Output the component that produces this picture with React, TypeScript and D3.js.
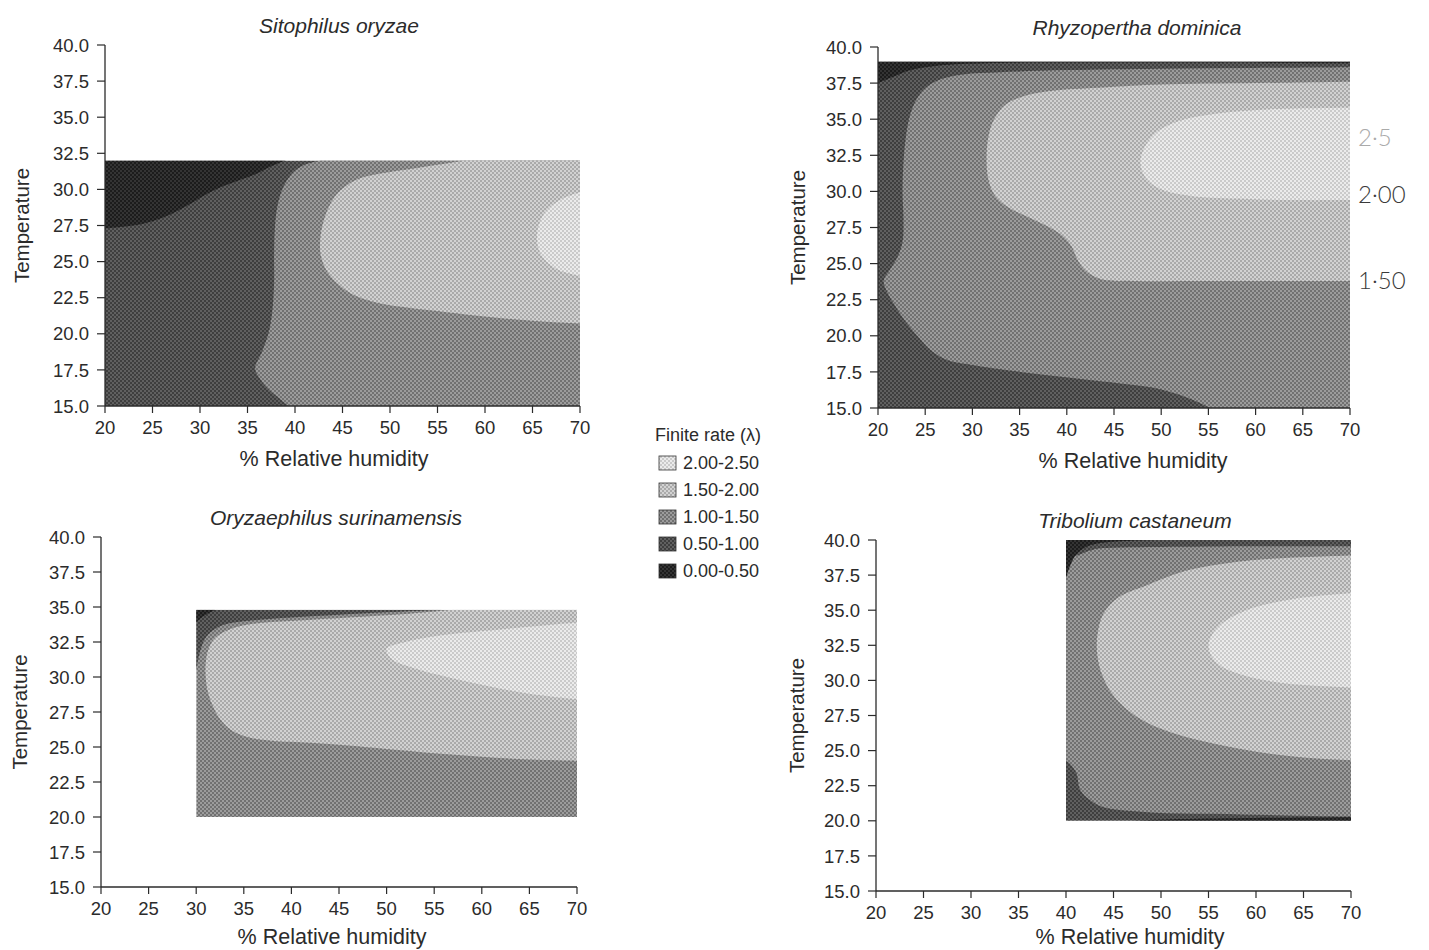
import React from 'react';
import * as d3 from 'd3';

// ---------- axis ticks & labels ----------
const rhTicks = [20, 25, 30, 35, 40, 45, 50, 55, 60, 65, 70];
const tempTicks = [15, 17.5, 20, 22.5, 25, 27.5, 30, 32.5, 35, 37.5, 40];
const levelLabels = ['0.00-0.50', '0.50-1.00', '1.00-1.50', '1.50-2.00', '2.00-2.50'];
const legendOrder = [4, 3, 2, 1, 0];
const speciesNames = ['Sitophilus oryzae', 'Rhyzopertha dominica', 'Oryzaephilus surinamensis', 'Tribolium castaneum'];
const handNotes = ['2·5', '2·00', '1·50'];
const handNoteTemps = [33.7, 29.8, 23.8];

// ---------- data extents [rhMin, rhMax, tMin, tMax] ----------
const sitoExtent = [20, 70, 15, 32];
const rhyzExtent = [20, 70, 15, 39];
const oryzExtent = [30, 70, 20, 34.8];
const tribExtent = [40, 70, 20, 40];

// ---------- contour boundaries [RH, Temp] ----------
// Sitophilus oryzae (base level 0.50-1.00)
const sitoEdge0 = [[20, 27.3], [23, 27.5], [25, 27.8], [27, 28.3], [29, 29.0], [30.5, 29.6], [32, 30.1], [34, 30.6], [36, 31.1], [37.5, 31.6], [39, 32]];
const sitoEdge2 = [[42.8, 32], [41, 31.7], [39.7, 31.1], [38.8, 30.2], [38.2, 29], [37.9, 27.5], [37.8, 25.5], [37.8, 23.5], [37.6, 21.5], [37.2, 20], [36.5, 18.7], [35.8, 17.6], [36.3, 16.9], [37.3, 16.1], [38.4, 15.5], [39.3, 15]];
const sitoEdge3 = [[58, 32], [55, 31.7], [52, 31.4], [49, 31.1], [47, 30.8], [45.5, 30.3], [44.2, 29.5], [43.2, 28.2], [42.7, 26.8], [42.7, 25.5], [43.4, 24.3], [44.8, 23.3], [46.5, 22.6], [49, 22.1], [52, 21.8], [56, 21.5], [60, 21.2], [65, 20.9], [70, 20.7]];
const sitoEdge4 = [[70, 29.8], [68, 29.3], [66.3, 28.4], [65.5, 27], [65.8, 25.6], [67.5, 24.5], [70, 24]];

// Rhyzopertha dominica (base level 0.50-1.00)
const rhyzEdge2 = [[70, 38.6], [60, 38.55], [50, 38.5], [40, 38.4], [33, 38.25], [29, 38.1], [26.8, 37.8], [25.3, 37.3], [24.3, 36.6], [23.5, 35.5], [23.0, 34], [22.7, 32], [22.6, 30], [22.7, 28], [22.6, 26.5], [22.1, 25.5], [21.2, 24.5], [20.6, 23.8], [21.0, 23], [21.8, 22.1], [22.8, 21.1], [24.3, 19.9], [25.6, 19.0], [27.4, 18.3], [29.8, 18.0], [35.1, 17.5], [40.4, 17.1], [45.7, 16.7], [49.2, 16.4], [51.5, 16.0], [53.2, 15.6], [55.2, 15]];
const rhyzEdge3 = [[70, 37.6], [60, 37.5], [50, 37.4], [44, 37.2], [39, 37.0], [35.5, 36.6], [33.5, 36], [32.3, 35], [31.7, 33.8], [31.5, 32.3], [31.7, 30.8], [32.4, 29.7], [33.8, 28.9], [36, 28.2], [38.2, 27.5], [39.6, 26.9], [40.5, 26.2], [41.2, 25.2], [42.2, 24.4], [43.8, 23.9], [47, 23.8], [55, 23.8], [70, 23.8]];
const rhyzEdge4 = [[70, 35.8], [62, 35.7], [56, 35.4], [52, 34.9], [49.5, 34.1], [48.2, 33], [47.8, 32], [48.3, 31], [49.8, 30.2], [53, 29.7], [58, 29.5], [64, 29.4], [70, 29.4]];
const rhyzEdge0 = [[20, 37.5], [21.5, 37.9], [23.5, 38.4], [26.5, 38.72], [31.5, 38.88], [45, 38.92], [70, 38.88]];

// Oryzaephilus surinamensis (base level 1.00-1.50)
const oryzEdge3 = [[57, 34.8], [52, 34.5], [46, 34.25], [40, 34.0], [36, 33.8], [33.5, 33.4], [32, 32.8], [31.3, 32], [31, 31], [31, 30], [31.2, 29], [31.7, 28], [32.5, 27], [33.7, 26.2], [35.5, 25.7], [38, 25.45], [42, 25.3], [46, 25.1], [50, 24.85], [55, 24.55], [60, 24.3], [65, 24.1], [70, 24.0]];
const oryzEdge4 = [[70, 33.9], [62, 33.4], [56, 33], [52, 32.5], [50, 32], [50.5, 31.3], [53, 30.6], [57, 29.9], [61, 29.3], [65, 28.8], [70, 28.4]];
const oryzEdge1 = [[30, 30.5], [30.4, 31.8], [30.9, 32.7], [31.7, 33.3], [33, 33.75], [36, 34.05], [40, 34.25], [45, 34.45], [50, 34.62], [56, 34.8]];
const oryzEdge0 = [[30, 33.9], [30.8, 34.35], [32, 34.8]];

// Tribolium castaneum (base level 1.00-1.50)
const tribEdge3 = [[70, 38.9], [60.2, 38.6], [55.5, 38.2], [52.1, 37.7], [48.6, 36.8], [45.5, 35.9], [43.9, 34.7], [43.3, 33.2], [43.3, 31.8], [43.8, 30.4], [44.8, 29.1], [46.3, 28], [48.5, 27], [51.5, 26.2], [55.5, 25.5], [60.2, 24.9], [65, 24.5], [70, 24.3]];
const tribEdge4 = [[70, 36.2], [64, 35.8], [59, 35], [56, 33.8], [55, 32.5], [55.8, 31.3], [58.5, 30.4], [63, 29.8], [70, 29.5]];
const tribEdge1Top = [[41.2, 38.9], [43, 39.35], [45, 39.45], [50, 39.5], [60, 39.55], [70, 39.55]];
const tribEdge1Bottom = [[40, 24.3], [40.5, 24.0], [41.1, 23.4], [41.5, 22.2], [42.5, 21.5], [43.8, 21.0], [49, 20.6], [55.5, 20.5], [62, 20.4], [70, 20.3]];
const tribEdge0Top = [[40, 37.3], [40.4, 38.1], [41, 38.9], [42.1, 39.5], [43.8, 39.8], [47, 39.95], [50, 40]];
const tribEdge0Bottom = [[47, 20], [52, 20.12], [60, 20.2], [70, 20.25]];

// ---------- styles ----------
const levelColors = [
  ['#1c1c1c', '#343434'],
  ['#3e3e3e', '#606060'],
  ['#717171', '#9c9c9c'],
  ['#aaaaaa', '#d2d2d2'],
  ['#cacaca', '#ebebeb'],
];
const FONT = '"Liberation Sans", Arial, Helvetica, sans-serif';
const INK = '#2b2b2b';

type Region = { level: number; edge: number[][]; close: number[][] };
type Panel = {
  name: string;
  extent: number[];
  base: number;
  regions: Region[];
  box: { x0: number; x1: number; yTop: number; yBot: number };
  titleX: number;
  xLabelX: number;
  xLabelY: number;
  yLabelX: number;
  notes?: boolean;
};

const panels: Panel[] = [
  {
    name: speciesNames[0], extent: sitoExtent, base: 1,
    regions: [
      { level: 0, edge: sitoEdge0, close: [[20, 32]] },
      { level: 2, edge: sitoEdge2, close: [[70, 15], [70, 32]] },
      { level: 3, edge: sitoEdge3, close: [[70, 32]] },
      { level: 4, edge: sitoEdge4, close: [] },
    ],
    box: { x0: 105, x1: 580, yTop: 45, yBot: 406 }, titleX: 339, xLabelX: 334, xLabelY: 466, yLabelX: 29,
  },
  {
    name: speciesNames[1], extent: rhyzExtent, base: 1,
    regions: [
      { level: 2, edge: rhyzEdge2, close: [[70, 15]] },
      { level: 3, edge: rhyzEdge3, close: [] },
      { level: 4, edge: rhyzEdge4, close: [] },
      { level: 0, edge: rhyzEdge0, close: [[70, 39], [20, 39]] },
    ],
    box: { x0: 878, x1: 1350, yTop: 47, yBot: 408 }, titleX: 1137, xLabelX: 1133, xLabelY: 468, yLabelX: 805, notes: true,
  },
  {
    name: speciesNames[2], extent: oryzExtent, base: 2,
    regions: [
      { level: 3, edge: oryzEdge3, close: [[70, 34.8]] },
      { level: 4, edge: oryzEdge4, close: [] },
      { level: 1, edge: oryzEdge1, close: [[30, 34.8]] },
      { level: 0, edge: oryzEdge0, close: [[30, 34.8]] },
    ],
    box: { x0: 101, x1: 577, yTop: 537, yBot: 887 }, titleX: 336, xLabelX: 332, xLabelY: 944, yLabelX: 27,
  },
  {
    name: speciesNames[3], extent: tribExtent, base: 2,
    regions: [
      { level: 3, edge: tribEdge3, close: [] },
      { level: 4, edge: tribEdge4, close: [] },
      { level: 1, edge: tribEdge1Top, close: [[70, 40], [40, 40], [40, 38.9]] },
      { level: 1, edge: tribEdge1Bottom, close: [[70, 20], [40, 20]] },
      { level: 0, edge: tribEdge0Top, close: [[40, 40]] },
      { level: 0, edge: tribEdge0Bottom, close: [[70, 20]] },
    ],
    box: { x0: 876, x1: 1351, yTop: 540, yBot: 891 }, titleX: 1135, xLabelX: 1130, xLabelY: 944, yLabelX: 804,
  },
];

function regionPath(edge: number[][], close: number[][], x: any, y: any) {
  const line = d3.line<number[]>().x((d) => x(d[0])).y((d) => y(d[1])).curve(d3.curveCatmullRom.alpha(0.5));
  return (line(edge) || '') + close.map((p) => `L${x(p[0])},${y(p[1])}`).join('') + 'Z';
}

const fmtT = d3.format('.1f');

function PanelView({ p, idx }: { p: Panel; idx: number }) {
  const { x0, x1, yTop, yBot } = p.box;
  const x = d3.scaleLinear().domain([20, 70]).range([x0, x1]);
  const y = d3.scaleLinear().domain([15, 40]).range([yBot, yTop]);
  const [rMin, rMax, tMin, tMax] = p.extent;
  const clipId = `clip${idx}`;
  return (
    <g>
      <defs>
        <clipPath id={clipId}>
          <rect x={x(rMin)} y={y(tMax)} width={x(rMax) - x(rMin)} height={y(tMin) - y(tMax)} />
        </clipPath>
      </defs>
      <g clipPath={`url(#${clipId})`}>
        <rect x={x(rMin)} y={y(tMax)} width={x(rMax) - x(rMin)} height={y(tMin) - y(tMax)} fill={`url(#lev${p.base})`} />
        {p.regions.map((r, i) => (
          <path key={i} d={regionPath(r.edge, r.close, x, y)} fill={`url(#lev${r.level})`} />
        ))}
      </g>
      {/* y axis */}
      <line x1={x0} x2={x0} y1={yTop} y2={yBot} stroke={INK} strokeWidth={1.3} />
      {tempTicks.map((t) => (
        <g key={t}>
          <line x1={x0 - 8} x2={x0} y1={y(t)} y2={y(t)} stroke={INK} strokeWidth={1.2} />
          <text x={x0 - 16} y={y(t)} dy="0.36em" textAnchor="end" fontFamily={FONT} fontSize={18.5} fill={INK}>
            {fmtT(t)}
          </text>
        </g>
      ))}
      {/* x axis */}
      <line x1={x0} x2={x1} y1={yBot} y2={yBot} stroke={INK} strokeWidth={1.3} />
      {rhTicks.map((r) => (
        <g key={r}>
          <line x1={x(r)} x2={x(r)} y1={yBot} y2={yBot + 7} stroke={INK} strokeWidth={1.2} />
          <text x={x(r)} y={yBot + 28} textAnchor="middle" fontFamily={FONT} fontSize={18.5} fill={INK}>
            {r}
          </text>
        </g>
      ))}
      <text x={p.titleX} y={yTop - 12} textAnchor="middle" fontFamily={FONT} fontStyle="italic" fontSize={21} fill={INK}>
        {p.name}
      </text>
      <text x={p.xLabelX} y={p.xLabelY} textAnchor="middle" fontFamily={FONT} fontSize={21.5} fill={INK}>
        % Relative humidity
      </text>
      <text transform={`translate(${p.yLabelX},${(yTop + yBot) / 2}) rotate(-90)`} textAnchor="middle" fontFamily={FONT} fontSize={20.5} fill={INK}>
        Temperature
      </text>
      {p.notes &&
        handNotes.map((n, i) => (
          <text key={n} x={x1 + 8} y={y(handNoteTemps[i])} dy="0.35em" fontFamily="Lato, sans-serif" fontWeight={300} fontSize={24} fill={i === 0 ? '#aaaaaa' : '#3a3a3a'}>
            {n}
          </text>
        ))}
    </g>
  );
}

export default function App() {
  return (
    <svg width={1429} height={950} style={{ position: 'absolute', left: 0, top: 0, background: '#fff' }}>
      <defs>
        {levelColors.map((c, i) => (
          <pattern key={i} id={`lev${i}`} patternUnits="userSpaceOnUse" width={4} height={4}>
            <rect x={0} y={0} width={4} height={4} fill={c[1]} />
            <rect x={0} y={0} width={2} height={2} fill={c[0]} />
            <rect x={2} y={2} width={2} height={2} fill={c[0]} />
          </pattern>
        ))}
      </defs>
      <rect x={0} y={0} width={1429} height={950} fill="#fff" />
      {panels.map((p, i) => (
        <PanelView key={i} p={p} idx={i} />
      ))}
      {/* legend */}
      <text x={655} y={441} fontFamily={FONT} fontSize={18} fill={INK}>
        Finite rate (λ)
      </text>
      {legendOrder.map((lv, i) => (
        <g key={lv}>
          <rect x={659} y={456 + i * 27} width={17} height={14} fill={`url(#lev${lv})`} stroke="#333" strokeWidth={0.8} />
          <text x={683} y={463 + i * 27} dy="0.36em" fontFamily={FONT} fontSize={18} fill={INK}>
            {levelLabels[lv]}
          </text>
        </g>
      ))}
    </svg>
  );
}
